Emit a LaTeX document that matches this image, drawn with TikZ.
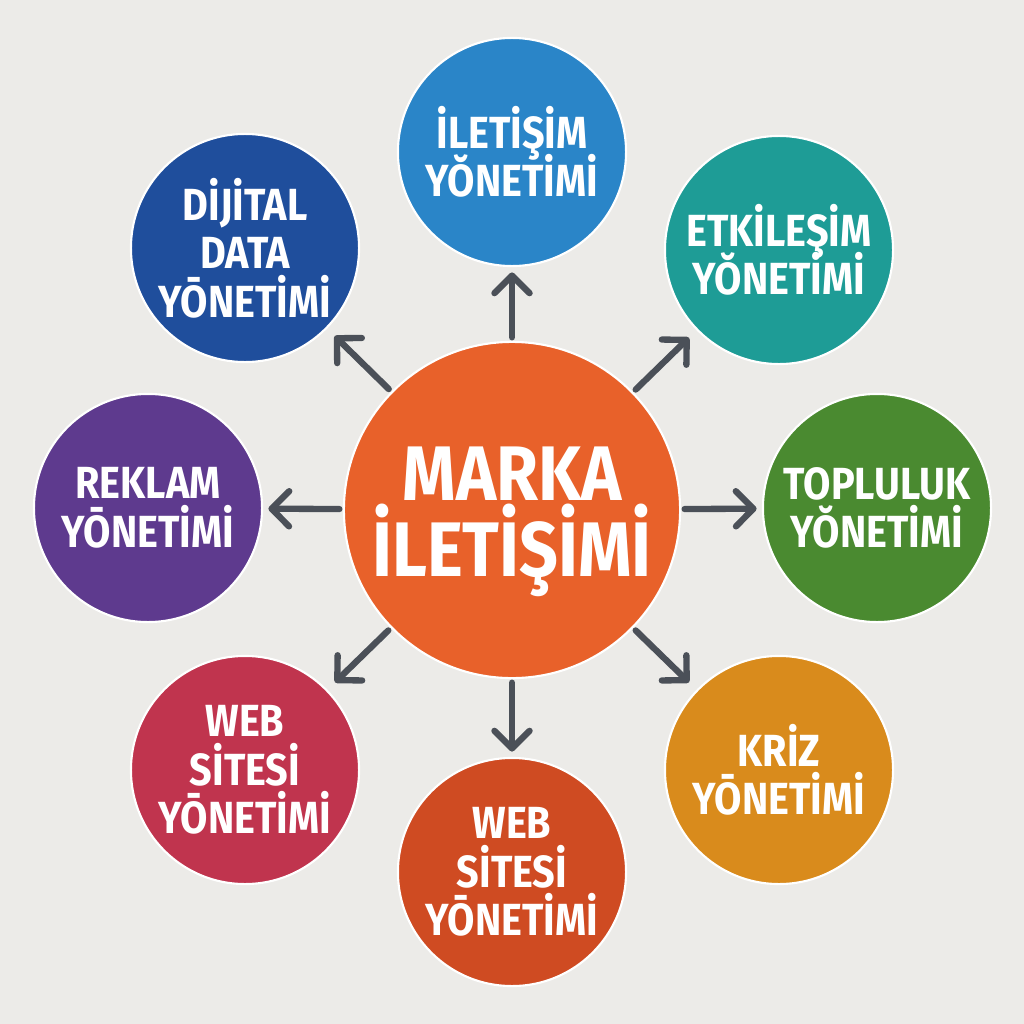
\documentclass[tikz,border=0pt]{standalone}
\usepackage{fontspec}
\setmainfont{Fira Sans}
\newfontfamily\labelfont{Fira Sans}[FakeStretch=0.88]
\newcommand\tightskip{\setlength{\lineskiplimit}{-20pt}}
\usetikzlibrary{arrows.meta}
\definecolor{bg}{HTML}{ECEBE8}
\definecolor{arrowgray}{HTML}{4B5058}
\definecolor{orangemain}{HTML}{E8612A}
\definecolor{blueil}{HTML}{2A85C8}
\definecolor{bluedij}{HTML}{1F4E9C}
\definecolor{tealet}{HTML}{1E9C96}
\definecolor{purplerek}{HTML}{5E3A8E}
\definecolor{greentop}{HTML}{4A8A30}
\definecolor{redweb}{HTML}{C0344E}
\definecolor{rustweb}{HTML}{CF4B22}
\definecolor{goldkriz}{HTML}{D98B1C}
\begin{document}
\begin{tikzpicture}[x=0.01cm, y=-0.01cm,
  hub/.style={circle, draw=white, line width=0.6pt, inner sep=0pt, minimum size=3.36cm},
  hubtext/.style={text=white, align=center, inner sep=0pt,
    font=\labelfont\bfseries\fontsize{22}{21.6}\selectfont\tightskip},
  topic/.style={circle, draw=white, line width=0.6pt, inner sep=0pt, minimum size=2.28cm, text=white, align=center,
    font=\labelfont\bfseries\fontsize{12.8}{13.8}\selectfont\tightskip},
  arr/.style={-{Straight Barb[round, length=5pt, width=10pt]}, arrowgray, line width=1.8pt, line cap=round,
    shorten <=1pt, shorten >=1.5pt}]
\useasboundingbox[fill=bg] (0,0) rectangle (1024,1024);
% centre
\node[hub, fill=orangemain] (marka) at (512,510) {};
\node[hubtext] (markatext) at ([yshift=-0.12cm]marka.center) {MARKA\\İLETİŞİMİ};
% ring of topics
\node[topic, fill=blueil] (iletisim) at (512,152) {İLETİŞİM\\YŎNETİMİ};
\node[topic, fill=tealet] (etkilesim) at (779,250) {ETKİLEŞİM\\YŎNETİMİ};
\node[topic, fill=greentop] (topluluk) at (877,508) {TOPLULUK\\YŎNETİMİ};
\node[topic, fill=goldkriz] (kriz) at (779,770) {KRİZ\\YŌNETİMİ};
\node[topic, fill=rustweb] (webalt) at (512,872) {WEB\\SİTESİ\\YŌNETİMİ};
\node[topic, fill=redweb] (websol) at (245,770) {WEB\\SİTESİ\\YŌNETİMİ};
\node[topic, fill=purplerek] (reklam) at (148,508) {REKLAM\\YŌNETİMİ};
\node[topic, fill=bluedij] (dijital) at (245,248) {DİJİTAL\\DATA\\YŌNETİMİ};
% arrows
\draw[arr] (marka) -- (iletisim);
\draw[arr, shorten >=3pt] (marka) -- (etkilesim);
\draw[arr] (marka) -- (topluluk);
\draw[arr, shorten >=3pt] (marka) -- (kriz);
\draw[arr] (marka) -- (webalt);
\draw[arr, shorten >=3pt] (marka) -- (websol);
\draw[arr] (marka) -- (reklam);
\draw[arr, shorten >=3pt] (marka) -- (dijital);
\end{tikzpicture}
\end{document}
